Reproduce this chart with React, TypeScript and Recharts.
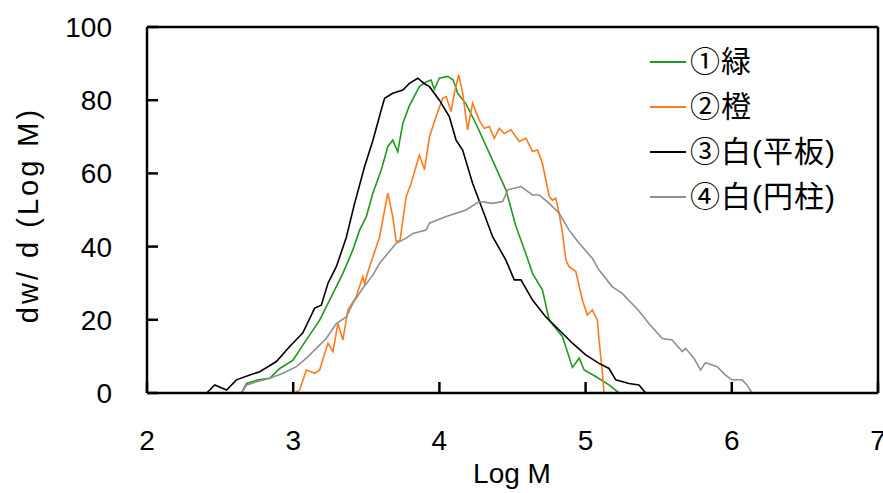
import React from 'react';
import { LineChart, Line, XAxis, YAxis, ReferenceLine, Legend } from 'recharts';

// ---- data (Log M, dw/d(Log M)) ----
const greenPts: number[][] = [
  [2.646, 0], [2.681, 2.6], [2.76, 3.6], [2.84, 4.0], [2.908, 6.7], [2.999, 9.0], [3.09, 14.5],
  [3.181, 19.9], [3.272, 27.2], [3.34, 32.7], [3.408, 39.1], [3.454, 44.5], [3.5, 48.2],
  [3.545, 54.6], [3.602, 60.9], [3.647, 67.3], [3.681, 69.1], [3.715, 65.9], [3.75, 73.7],
  [3.795, 78.5], [3.863, 83.7], [3.909, 85], [3.943, 85.5], [3.965, 83], [4.0, 86],
  [4.057, 86.5], [4.095, 85.5], [4.125, 81.9], [4.182, 79], [4.251, 73.5], [4.319, 67.5],
  [4.387, 61.5], [4.455, 55.5], [4.524, 45.5], [4.592, 38], [4.637, 32.7], [4.705, 28.1],
  [4.751, 19.9], [4.842, 15.4], [4.91, 7.0], [4.956, 9.5], [4.99, 6.3], [5.069, 4.5],
  [5.16, 2.2], [5.229, 0]
];

const orangePts: number[][] = [
  [3.01, 0], [3.044, 0.8], [3.09, 6.3], [3.147, 5.4], [3.181, 6.3], [3.215, 10.8], [3.238, 13.6],
  [3.272, 11.3], [3.306, 19], [3.34, 14.5], [3.374, 22.7], [3.431, 26.3], [3.476, 31.8],
  [3.488, 30], [3.522, 34.5], [3.59, 42.5], [3.647, 54.6], [3.681, 48.2], [3.704, 41.5],
  [3.73, 41.5], [3.75, 47.3], [3.773, 53.7], [3.807, 57.3], [3.863, 65], [3.898, 61],
  [3.932, 70], [3.977, 75.5], [4.022, 80.5], [4.046, 81], [4.08, 76.9], [4.102, 81.9],
  [4.132, 86.9], [4.159, 81.9], [4.193, 71.9], [4.227, 79.2], [4.273, 74.5], [4.307, 72.3],
  [4.341, 72.8], [4.375, 69.6], [4.41, 72.3], [4.444, 70.9], [4.489, 71.9], [4.546, 68.7],
  [4.592, 69.6], [4.637, 66], [4.671, 66.4], [4.705, 62.7], [4.728, 58.2], [4.751, 53.7],
  [4.773, 52.7], [4.796, 53.2], [4.819, 49.1], [4.842, 43.6], [4.865, 36.3], [4.887, 34.5],
  [4.933, 33.2], [4.978, 25.4], [5.012, 21.3], [5.046, 22.7], [5.081, 19.9], [5.092, 14.5],
  [5.115, 5.4], [5.126, 0]
];

const blackPts: number[][] = [
  [2.408, 0], [2.464, 2.2], [2.544, 0.8], [2.612, 3.6], [2.703, 4.9], [2.771, 5.8], [2.885, 8.6],
  [2.976, 12.7], [3.065, 16.4], [3.147, 23.2], [3.192, 24], [3.238, 30], [3.295, 34.5],
  [3.363, 42.5], [3.42, 51.8], [3.488, 61.8], [3.545, 69], [3.602, 77.3], [3.625, 80.5],
  [3.681, 81.9], [3.75, 82.8], [3.795, 84.6], [3.852, 86], [3.898, 84.5], [3.932, 83.7],
  [4.0, 80], [4.068, 75.5], [4.114, 69.1], [4.159, 66.4], [4.227, 57.3], [4.296, 50],
  [4.364, 42.7], [4.455, 36.3], [4.512, 30.9], [4.558, 30.9], [4.637, 25.4], [4.728, 20.8],
  [4.819, 17.2], [4.91, 13.6], [5.001, 10.4], [5.092, 8.1], [5.16, 6.7], [5.206, 3.6],
  [5.297, 2.6], [5.365, 2.2], [5.411, 0]
];

const grayPts: number[][] = [
  [2.646, 0], [2.681, 2.2], [2.749, 3.1], [2.84, 4.0], [2.93, 5.4], [3.022, 7.2], [3.09, 9.5],
  [3.158, 12.2], [3.226, 14.9], [3.295, 19], [3.363, 20.8], [3.408, 24.5], [3.476, 28.6],
  [3.545, 32.2], [3.59, 35.4], [3.704, 40.9], [3.773, 42.3], [3.818, 43.6], [3.909, 44.5],
  [3.932, 46.4], [4.046, 48.2], [4.182, 50], [4.273, 52.3], [4.364, 51.8], [4.433, 52.3],
  [4.467, 55.5], [4.558, 56.4], [4.637, 54.1], [4.683, 54.1], [4.751, 51.8], [4.819, 49.1],
  [4.887, 44.5], [4.956, 40.9], [5.046, 36.8], [5.092, 33.6], [5.183, 29], [5.251, 27.2],
  [5.365, 22.4], [5.433, 19], [5.524, 14.9], [5.592, 14.5], [5.661, 11.3], [5.684, 12.2],
  [5.741, 9.5], [5.786, 6.3], [5.82, 8.3], [5.9, 7.2], [5.957, 4.9], [6.002, 3.6],
  [6.07, 3.6], [6.104, 2.2], [6.138, 0]
];

const X_TICKS = [2, 3, 4, 5, 6, 7];
const Y_TICKS = [0, 20, 40, 60, 80, 100];

const SERIES = [
  { name: '①緑', color: '#1f9a1f', pts: greenPts },
  { name: '②橙', color: '#ff7a1c', pts: orangePts },
  { name: '③白(平板)', color: '#000000', pts: blackPts },
  { name: '④白(円柱)', color: '#8f8f8f', pts: grayPts },
];

const toRows = (pts: number[][]) => pts.map(([x, y]) => ({ x, y }));

const FONT = '"Liberation Sans", Arial, "Noto Sans CJK JP", sans-serif';

const LegendContent = () => (
  <div style={{ fontFamily: FONT, fontSize: 30, color: '#000' }}>
    {SERIES.map((s) => (
      <div key={s.name} style={{ display: 'flex', alignItems: 'center', height: 45, whiteSpace: 'nowrap' }}>
        <svg width={38} height={4} style={{ display: 'block' }}>
          <line x1={0} y1={2} x2={36} y2={2} stroke={s.color} strokeWidth={2} />
        </svg>
        <span style={{ marginLeft: 2, lineHeight: '45px', letterSpacing: 1 }}>{s.name}</span>
      </div>
    ))}
  </div>
);

export default function App() {
  return (
    <div style={{ position: 'absolute', left: 0, top: 0, background: '#fff' }}>
      <LineChart width={883} height={493} margin={{ top: 27, right: 5, bottom: 8, left: 0 }}>
        <XAxis
          type="number"
          dataKey="x"
          domain={[2, 7]}
          ticks={X_TICKS}
          interval={0}
          allowDataOverflow
          height={92}
          tickSize={-11}
          tickMargin={48}
          axisLine={{ stroke: '#000', strokeWidth: 2.5 }}
          tickLine={{ stroke: '#000', strokeWidth: 2.5 }}
          tick={{ fill: '#000', fontSize: 28, fontFamily: FONT }}
          label={{
            value: 'Log M',
            content: () => (
              <text x={512} y={483} textAnchor="middle" fontSize={28} fontFamily={FONT} fill="#000">
                Log M
              </text>
            ),
          }}
        />
        <YAxis
          type="number"
          domain={[0, 100]}
          ticks={Y_TICKS}
          interval={0}
          allowDataOverflow
          width={147}
          tickSize={-11}
          tickMargin={46}
          axisLine={{ stroke: '#000', strokeWidth: 2.5 }}
          tickLine={{ stroke: '#000', strokeWidth: 2.5 }}
          tick={{ fill: '#000', fontSize: 28, fontFamily: FONT }}
          label={{
            value: 'dw/ d (Log M)',
            content: () => (
              <text
                x={28}
                y={215}
                transform="rotate(-90 28 215)"
                textAnchor="middle"
                dominantBaseline="central"
                fontSize={29}
                letterSpacing={3}
                fontFamily={FONT}
                fill="#000"
              >
                dw/ d (Log M)
              </text>
            ),
          }}
        />
        <ReferenceLine y={100} stroke="#000" strokeWidth={2.5} ifOverflow="visible" />
        <ReferenceLine x={7} stroke="#000" strokeWidth={2.5} ifOverflow="visible" />
        {SERIES.map((s) => (
          <Line
            key={s.name}
            data={toRows(s.pts)}
            dataKey="y"
            name={s.name}
            type="linear"
            stroke={s.color}
            strokeWidth={1.6}
            dot={false}
            activeDot={false}
            isAnimationActive={false}
          />
        ))}
        <Legend
          layout="vertical"
          align="center"
          verticalAlign="middle"
          content={<LegendContent />}
          wrapperStyle={{ left: 650, top: 39, width: 230, height: 180 }}
        />
      </LineChart>
    </div>
  );
}
